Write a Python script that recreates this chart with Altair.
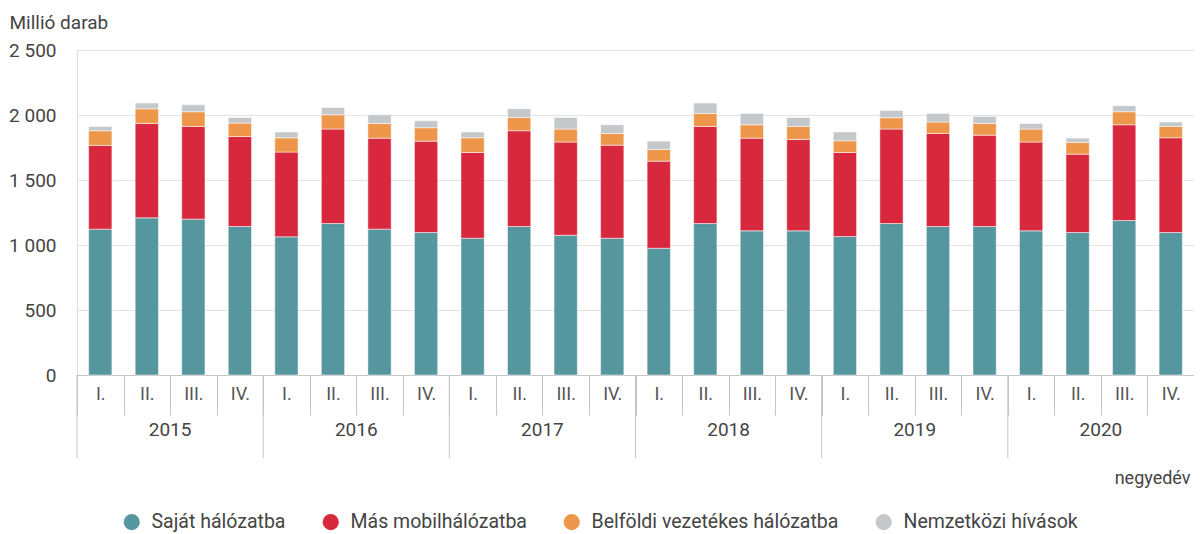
import altair as alt
import pandas as pd

years = [2015, 2016, 2017, 2018, 2019, 2020]
quarters = ["I.", "II.", "III.", "IV."]
series = ["Saját hálózatba", "Más mobilhálózatba", "Belföldi vezetékes hálózatba", "Nemzetközi hívások"]
colors = ["#56969f", "#d8283e", "#ee974a", "#c5c8cb"]

sajat = [1122, 1209, 1199, 1142, 1063, 1165, 1122, 1096, 1052, 1142, 1075, 1052,
         975, 1165, 1109, 1109, 1065, 1165, 1142, 1142, 1109, 1096, 1188, 1096]
mas = [644, 726, 713, 693, 652, 727, 700, 703, 660, 737, 717, 716,
       670, 747, 713, 703, 647, 727, 716, 703, 683, 603, 737, 729]
belfoldi = [113, 113, 113, 103, 110, 110, 113, 103, 113, 102, 100, 90,
            90, 100, 103, 100, 90, 87, 88, 90, 100, 90, 100, 87]
nemzetkozi = [33, 44, 54, 43, 44, 56, 67, 54, 44, 67, 89, 67,
              64, 80, 87, 69, 67, 56, 66, 54, 43, 33, 46, 34]

cats = [f"{y} {q}" for y in years for q in quarters]
rows = []
for si, (name, vals) in enumerate(zip(series, [sajat, mas, belfoldi, nemzetkozi])):
    for c, v in zip(cats, vals):
        rows.append({"cat": c, "series": name, "value": v, "idx": si})
df = pd.DataFrame(rows)

year_df = pd.DataFrame({"year": [str(y) for y in years],
                        "first": [f"{y} I." for y in years],
                        "mid": [f"{y} II." for y in years]})

W, H = 1117, 325
FONT = "Roboto"
TXT = "#444444"

xscale = alt.Scale(domain=cats, paddingInner=0, paddingOuter=0)

bars = alt.Chart(df).mark_bar(width=alt.RelativeBandSize(0.5), stroke="white", strokeWidth=0.5).encode(
    x=alt.X("cat:N", scale=xscale, sort=cats,
            axis=alt.Axis(title="negyedév", labelExpr="split(datum.label, ' ')[1]",
                          labelAngle=0, labelFontSize=18, labelColor="#555555", labelFont=FONT,
                          labelPadding=-30, tickBand="extent", tickSize=40, tickColor="#c4c4c4",
                          domainColor="#c4c4c4", grid=False,
                          titleX=1113, titleY=103, titleAlign="right", titleBaseline="middle",
                          titleFontSize=18, titleFontWeight="normal", titleColor=TXT, titleFont=FONT)),
    y=alt.Y("value:Q", stack="zero",
            scale=alt.Scale(domain=[0, 2500]),
            axis=alt.Axis(values=[0, 500, 1000, 1500, 2000, 2500],
                          labelExpr="replace(format(datum.value, ','), ',', ' ')",
                          domain=False, ticks=False, labelPadding=21,
                          labelFontSize=19, labelColor=TXT, labelFont=FONT,
                          gridColor="#e3e3e3",
                          title="Millió darab", titleAngle=0, titleAlign="left",
                          titleBaseline="middle", titleX=-68, titleY=-28,
                          titleFontSize=19, titleFontWeight="normal", titleColor=TXT,
                          titleFont=FONT)),
    color=alt.Color("series:N", sort=series,
                    scale=alt.Scale(domain=series, range=colors),
                    legend=alt.Legend(title=None, orient="none", direction="horizontal",
                                      legendX=45, legendY=462, symbolType="circle",
                                      symbolSize=260, symbolStrokeWidth=0, labelFontSize=19.5,
                                      labelColor=TXT, labelFont=FONT, columnPadding=35,
                                      labelOffset=10, labelLimit=400)),
    order=alt.Order("idx:Q", sort="ascending"),
)

year_rules = alt.Chart(year_df).mark_rule(color="#c4c4c4", strokeWidth=1).encode(
    x=alt.X("first:N", scale=xscale, sort=cats, bandPosition=0),
    y=alt.value(H),
    y2=alt.value(H + 83),
)

year_text = alt.Chart(year_df).mark_text(fontSize=19, color=TXT, font=FONT, baseline="middle").encode(
    x=alt.X("mid:N", scale=xscale, sort=cats, bandPosition=1),
    y=alt.value(H + 55),
    text="year:N",
)

chart = alt.layer(bars, year_rules, year_text).properties(
    width=W, height=H,
    autosize=alt.AutoSizeParams(type="none"),
    padding={"left": 69, "top": 42, "right": 0, "bottom": 159},
).configure_view(stroke=None).configure(font=FONT)

chart.save("out.html", embed_options={"renderer": "svg", "actions": False})
